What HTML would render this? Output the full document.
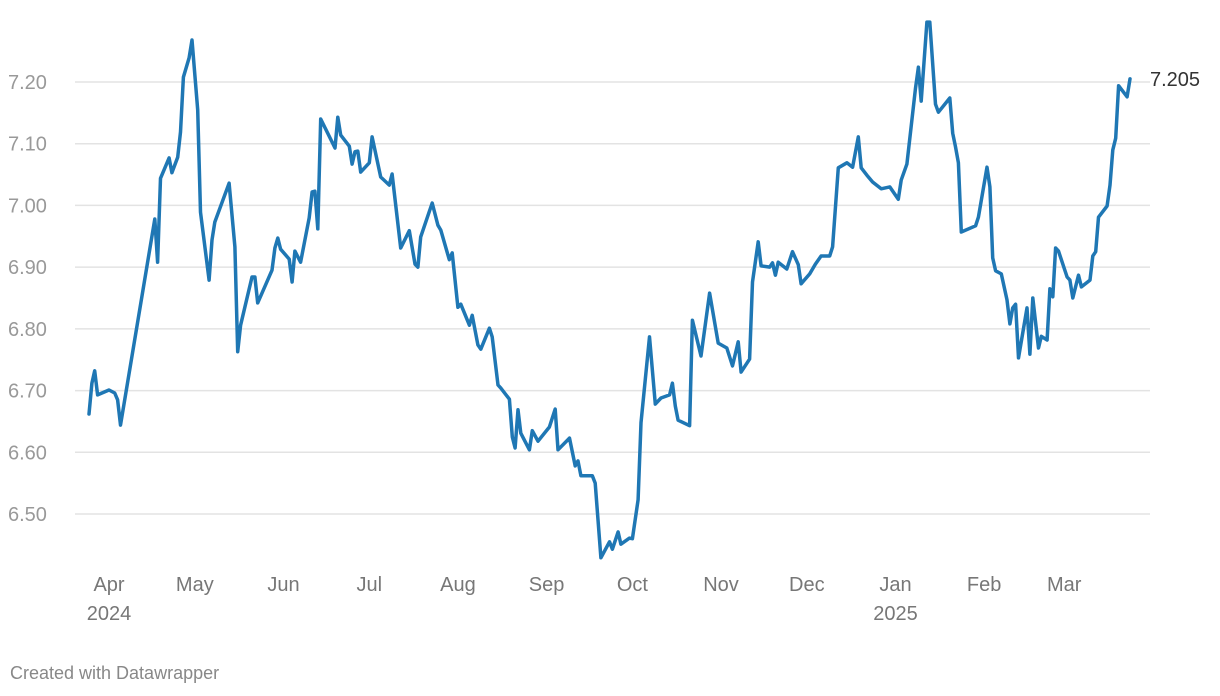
<!DOCTYPE html>
<html><head><meta charset="utf-8"><style>
body{margin:0;background:#fff;font-family:"Liberation Sans",Arial,sans-serif;}
svg{display:block}
</style></head><body>
<svg id="chart" width="1220" height="696" viewBox="0 0 1220 696">
<g id="grid"></g>
<g id="ylabels"></g>
<g id="xlabels"></g>
<path id="line" fill="none" stroke="#1f77b4" stroke-width="3.5" stroke-linejoin="round" stroke-linecap="round"></path>
<text id="endlabel" x="1150" y="86" font-size="20" fill="#333"></text>
<text x="10" y="679" font-size="18" fill="#888">Created with Datawrapper</text>
</svg>
<script>
// days since 2024-04-01
const days=[-7,-6,-5,-4,0,2,3,4,16,17,18,21,22,24,25,26,28,29,31,32,35,36,37,42,44,45,46,50,51,52,57,58,59,60,63,64,65,67,70,71,72,73,74,79,80,81,84,85,86,87,88,91,92,95,98,99,102,105,107,108,109,113,115,116,119,120,122,123,126,127,129,130,133,134,136,137,140,141,142,143,144,147,148,150,154,156,157,161,163,164,165,169,170,172,175,176,178,179,182,183,185,186,189,191,193,196,197,198,199,203,204,207,210,213,216,218,220,221,224,225,227,228,231,232,233,234,237,239,241,242,245,247,249,252,253,255,258,260,262,263,265,267,270,273,276,277,279,282,283,284,286,287,289,290,294,295,296,297,298,303,304,307,308,309,310,312,314,315,316,317,318,321,322,323,325,326,328,329,330,331,332,335,336,337,339,340,343,344,345,346,349,350,351,352,353,356,357];
const values=[6.662,6.712,6.732,6.693,6.701,6.696,6.685,6.644,6.978,6.908,7.044,7.077,7.053,7.078,7.119,7.208,7.239,7.268,7.155,6.989,6.879,6.944,6.973,7.036,6.933,6.763,6.806,6.884,6.884,6.842,6.895,6.931,6.947,6.929,6.913,6.876,6.926,6.908,6.980,7.022,7.023,6.962,7.140,7.093,7.143,7.114,7.096,7.067,7.087,7.088,7.054,7.069,7.111,7.046,7.033,7.051,6.931,6.959,6.905,6.900,6.949,7.004,6.968,6.960,6.912,6.923,6.835,6.840,6.806,6.822,6.774,6.767,6.801,6.787,6.709,6.704,6.686,6.625,6.607,6.669,6.631,6.604,6.635,6.618,6.641,6.670,6.604,6.623,6.578,6.586,6.562,6.562,6.550,6.429,6.455,6.443,6.471,6.451,6.461,6.460,6.523,6.648,6.787,6.678,6.688,6.693,6.712,6.675,6.652,6.643,6.814,6.756,6.858,6.777,6.769,6.740,6.779,6.730,6.751,6.876,6.941,6.902,6.900,6.907,6.887,6.908,6.897,6.925,6.904,6.873,6.889,6.905,6.918,6.918,6.933,7.061,7.069,7.062,7.111,7.061,7.049,7.038,7.027,7.030,7.010,7.041,7.067,7.190,7.224,7.169,7.297,7.297,7.164,7.151,7.174,7.117,7.095,7.069,6.957,6.967,6.981,7.062,7.030,6.915,6.894,6.889,6.847,6.808,6.834,6.840,6.753,6.834,6.759,6.850,6.769,6.788,6.782,6.865,6.852,6.931,6.926,6.884,6.879,6.850,6.887,6.868,6.879,6.918,6.925,6.981,6.999,7.033,7.090,7.109,7.194,7.176,7.205];
const yTicks=[6.5,6.6,6.7,6.8,6.9,7.0,7.1,7.2];
const yTickLabels=["6.50","6.60","6.70","6.80","6.90","7.00","7.10","7.20"];
const monthDays=[0,30,61,91,122,153,183,214,244,275,306,334];
const monthLabels=["Apr","May","Jun","Jul","Aug","Sep","Oct","Nov","Dec","Jan","Feb","Mar"];
const yearDays=[0,275];
const yearLabels=["2024","2025"];

const x=d=>89+(d-(-7))*(1130-89)/(357-(-7));
const y=v=>514-(v-6.5)*(514-82)/(7.2-6.5);
const NS="http://www.w3.org/2000/svg";
const grid=document.getElementById('grid'),yl=document.getElementById('ylabels'),xl=document.getElementById('xlabels');
yTicks.forEach((t,i)=>{
  const l=document.createElementNS(NS,'line');
  
  
  l.setAttribute('x1',75);l.setAttribute('x2',1150);l.setAttribute('y1',y(t));l.setAttribute('y2',y(t));
  l.setAttribute('stroke','#e3e3e3');l.setAttribute('stroke-width','1.5');
  grid.appendChild(l);
  const tx=document.createElementNS(NS,'text');
  
  
  tx.setAttribute('x',8);tx.setAttribute('y',y(t)+7);tx.setAttribute('font-size','20');tx.setAttribute('fill','#999');
  tx.textContent=yTickLabels[i];yl.appendChild(tx);
});
monthDays.forEach((d,i)=>{
  const tx=document.createElementNS(NS,'text');
  
  
  tx.setAttribute('x',x(d));tx.setAttribute('y',591);tx.setAttribute('font-size','20');tx.setAttribute('fill','#777');tx.setAttribute('text-anchor','middle');
  tx.textContent=monthLabels[i];xl.appendChild(tx);
});
yearDays.forEach((d,i)=>{
  const tx=document.createElementNS(NS,'text');
  
  
  tx.setAttribute('x',x(d));tx.setAttribute('y',620);tx.setAttribute('font-size','20');tx.setAttribute('fill','#777');tx.setAttribute('text-anchor','middle');
  tx.textContent=yearLabels[i];xl.appendChild(tx);
});
document.getElementById('line').setAttribute('d',days.map((d,i)=>(i?'L':'M')+x(d).toFixed(1)+','+y(values[i]).toFixed(1)).join(''));
const el=document.getElementById('endlabel');
el.textContent=values[values.length-1].toFixed(3);
el.setAttribute('y',y(values[values.length-1])+7);
</script>
</body></html>
